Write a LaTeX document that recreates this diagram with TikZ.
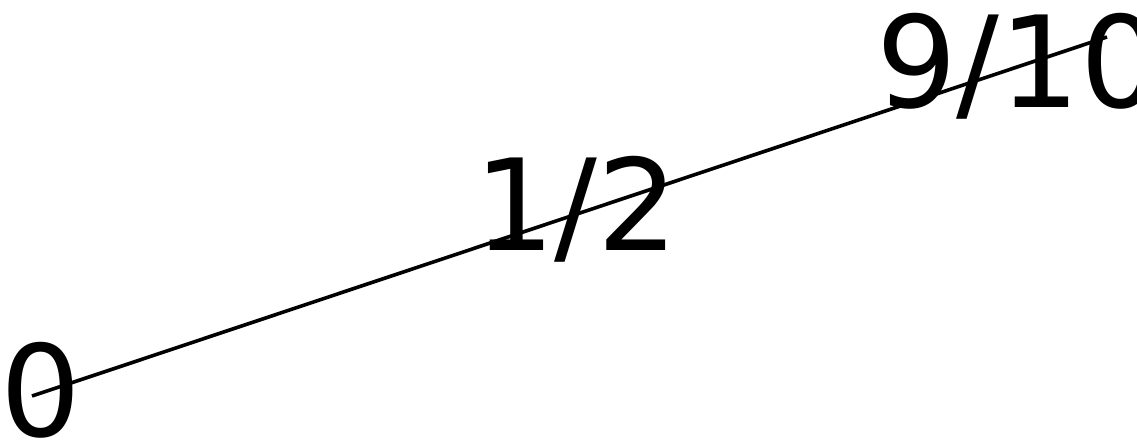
\documentclass[tikz,border=0pt]{standalone}
\usepackage{fontspec}
\setmainfont{DejaVu Sans}
\usepackage{tikz}
\usetikzlibrary{positioning}

\begin{document}
\begin{tikzpicture}[x=1pt,y=-1pt,
  lbl/.style={inner sep=0pt,anchor=base west,font=\fontsize{127}{150}\selectfont},
  seg/.style={line width=3.6pt,black}]
\useasboundingbox (0,0) rectangle (1137,441);
\coordinate (p0) at (32,396);
\coordinate (p1) at (1107,37);
\node[lbl] (zero) at (0,436) {0};
\node[lbl] (half) at (474,250) {1/2};
\node[lbl] (ninetenths) at (876,108) {9/10};
\draw[seg] (p0) -- (p1);
\end{tikzpicture}
\end{document}
